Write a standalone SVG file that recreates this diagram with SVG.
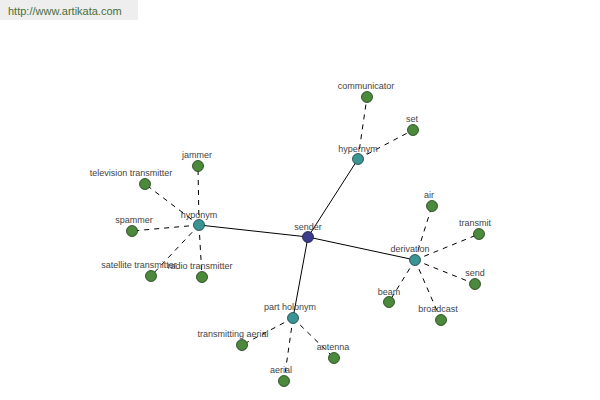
<svg xmlns="http://www.w3.org/2000/svg" width="600" height="400" viewBox="0 0 600 400">
<style>
.l{font-family:"Liberation Sans",Arial,sans-serif;font-size:9px;fill:#444;text-anchor:middle}
.leaf{fill:#4a8a3a;stroke:#1e3a18;stroke-width:0.8}
.hub{fill:#3a9494;stroke:#1a3e3e;stroke-width:0.8}
.root{fill:#3c3c8c;stroke:#1a1a44;stroke-width:0.8}
.s{stroke:#000;stroke-width:1;fill:none}
.d{stroke:#000;stroke-width:1;fill:none;stroke-dasharray:5,5}
</style>
<rect width="600" height="400" fill="#fff"/>
<rect x="0" y="0" width="138" height="20" fill="#eeeeee"/>
<text x="8" y="15" style="font-family:'Liberation Sans',Arial,sans-serif;font-size:11px;fill:#4a6e3a">http://www.artikata.com</text>
<g id="connectors">
<line class="s" x1="308" y1="237" x2="358" y2="159"/>
<line class="s" x1="308" y1="237" x2="199" y2="225"/>
<line class="s" x1="308" y1="237" x2="415" y2="260"/>
<line class="s" x1="308" y1="237" x2="293" y2="318"/>
<line class="d" x1="358" y1="159" x2="367" y2="97"/>
<line class="d" x1="358" y1="159" x2="413" y2="130"/>
<line class="d" x1="199" y1="225" x2="198" y2="166"/>
<line class="d" x1="199" y1="225" x2="145" y2="184"/>
<line class="d" x1="199" y1="225" x2="132" y2="231"/>
<line class="d" x1="199" y1="225" x2="151" y2="276"/>
<line class="d" x1="199" y1="225" x2="202" y2="277"/>
<line class="d" x1="415" y1="260" x2="432" y2="206"/>
<line class="d" x1="415" y1="260" x2="479" y2="234"/>
<line class="d" x1="415" y1="260" x2="475" y2="284"/>
<line class="d" x1="415" y1="260" x2="441" y2="320"/>
<line class="d" x1="415" y1="260" x2="389" y2="302"/>
<line class="d" x1="293" y1="318" x2="242" y2="345"/>
<line class="d" x1="293" y1="318" x2="334" y2="358"/>
<line class="d" x1="293" y1="318" x2="284" y2="381"/>
</g>
<g id="sender"><circle class="root" cx="308" cy="237" r="5.5"/><text class="l" x="308" y="230">sender</text></g>
<g id="hypernym"><circle class="hub" cx="358" cy="159" r="5.5"/><text class="l" x="358" y="152">hypernym</text></g>
<g id="hyponym"><circle class="hub" cx="199" cy="225" r="5.5"/><text class="l" x="199" y="218">hyponym</text></g>
<g id="derivation"><circle class="hub" cx="415" cy="260" r="5.5"/><text class="l" x="410" y="252">derivation</text></g>
<g id="part-holonym"><circle class="hub" cx="293" cy="318" r="5.5"/><text class="l" x="290" y="310">part holonym</text></g>
<g id="communicator"><circle class="leaf" cx="367" cy="97" r="5.5"/><text class="l" x="366" y="89">communicator</text></g>
<g id="set"><circle class="leaf" cx="413" cy="130" r="5.5"/><text class="l" x="412" y="122">set</text></g>
<g id="jammer"><circle class="leaf" cx="198" cy="166" r="5.5"/><text class="l" x="197" y="158">jammer</text></g>
<g id="television-transmitter"><circle class="leaf" cx="145" cy="184" r="5.5"/><text class="l" x="131" y="176">television transmitter</text></g>
<g id="spammer"><circle class="leaf" cx="132" cy="231" r="5.5"/><text class="l" x="134" y="223">spammer</text></g>
<g id="satellite-transmitter"><circle class="leaf" cx="151" cy="276" r="5.5"/><text class="l" x="139" y="268">satellite transmitter</text></g>
<g id="radio-transmitter"><circle class="leaf" cx="202" cy="277" r="5.5"/><text class="l" x="200" y="269">radio transmitter</text></g>
<g id="air"><circle class="leaf" cx="432" cy="206" r="5.5"/><text class="l" x="429" y="198">air</text></g>
<g id="transmit"><circle class="leaf" cx="479" cy="234" r="5.5"/><text class="l" x="475" y="226">transmit</text></g>
<g id="send"><circle class="leaf" cx="475" cy="284" r="5.5"/><text class="l" x="475" y="276">send</text></g>
<g id="broadcast"><circle class="leaf" cx="441" cy="320" r="5.5"/><text class="l" x="438" y="312">broadcast</text></g>
<g id="beam"><circle class="leaf" cx="389" cy="302" r="5.5"/><text class="l" x="389" y="295">beam</text></g>
<g id="transmitting-aerial"><circle class="leaf" cx="242" cy="345" r="5.5"/><text class="l" x="233" y="337">transmitting aerial</text></g>
<g id="antenna"><circle class="leaf" cx="334" cy="358" r="5.5"/><text class="l" x="333" y="350">antenna</text></g>
<g id="aerial"><circle class="leaf" cx="284" cy="381" r="5.5"/><text class="l" x="281" y="373">aerial</text></g>
</svg>
